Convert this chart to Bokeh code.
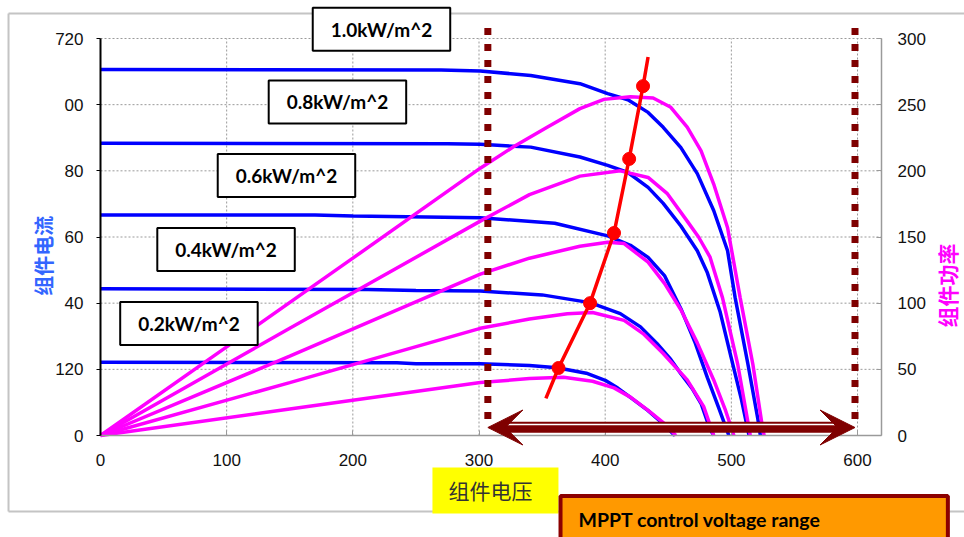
import math
from bokeh.plotting import figure
from bokeh.models import Range1d, LinearAxis, FixedTicker, Label, Arrow, VeeHead
from bokeh.embed import file_html
from bokeh.resources import INLINE

# ---------------- data ----------------
# I-V curves (left axis, current units) for each irradiance
iv_v_10 = [0, 270, 301, 341, 380, 402, 418, 434, 446, 460, 473, 486, 497, 503, 513, 521, 523]
iv_i_10 = [664, 663, 661, 653, 638, 620, 609, 586, 559, 522, 475, 408, 335, 250, 131, 30, 0]
iv_v_08 = [0, 275, 301, 341, 380, 402, 418, 434, 446, 460, 473, 481, 491, 500, 508, 514]
iv_i_08 = [530, 529, 528, 523, 505, 490, 477, 450, 421, 380, 335, 295, 225, 140, 65, 0]
iv_v_06 = [0, 170, 200, 301, 360, 402, 420, 434, 447, 460, 471, 481, 490, 498]
iv_i_06 = [400, 400, 398, 395, 385, 362, 345, 323, 290, 230, 170, 105, 50, 0]
iv_v_04 = [0, 212, 250, 301, 350, 388, 412, 428, 441, 452, 460, 469, 476, 483, 486]
iv_i_04 = [266, 265, 263, 262, 255, 241, 221, 197, 167, 138, 112, 85, 58, 12, 0]
iv_v_02 = [0, 235, 250, 301, 340, 362, 385, 400, 410, 420, 434, 449, 455]
iv_i_02 = [133, 132, 130, 130, 127, 123, 113, 100, 86, 69, 45, 15, 0]

# P-V curves (right axis, power units)
pv_v_10 = [0, 100, 200, 301, 327, 354, 380, 399, 420, 438, 452, 465, 476, 486, 497, 507, 517, 525, 526]
pv_p_10 = [0, 67, 134, 202, 218, 233, 247, 254, 256, 255, 248, 233, 215, 190, 157, 104, 54, 4, 0]
pv_v_08 = [0, 150, 301, 340, 380, 412, 434, 449, 465, 474, 483, 493, 505, 515]
pv_p_08 = [0, 81, 162, 182, 196, 200, 195, 183, 162, 150, 135, 104, 54, 0]
pv_v_06 = [0, 150, 301, 340, 380, 402, 415, 434, 447, 460, 473, 486, 495, 502]
pv_p_06 = [0, 60, 122, 134, 143, 146, 145, 131, 115, 95, 70, 42, 20, 0]
pv_v_04 = [0, 150, 301, 340, 370, 390, 415, 430, 446, 465, 478, 486]
pv_p_04 = [0, 40, 81, 88, 92, 93, 87, 77, 62, 42, 22, 0]
pv_v_02 = [0, 150, 301, 340, 367, 390, 407, 420, 434, 447, 456]
pv_p_02 = [0, 20, 40, 43, 44, 41, 36, 29, 19, 9, 0]

# MPPT trajectory (right axis)
mppt_line_v = [353, 363, 388, 407, 419, 430, 434]
mppt_line_p = [28, 51, 100, 153, 209, 264, 286]
mppt_dot_v = [363, 388, 407, 419, 430]
mppt_dot_p = [51, 100, 153, 209, 264]

# MPPT control voltage range
mppt_range = [307, 598]

irr_labels = ["1.0kW/m^2", "0.8kW/m^2", "0.6kW/m^2", "0.4kW/m^2", "0.2kW/m^2"]

x_ticks = [0, 100, 200, 300, 400, 500, 600]
left_ticks = [0, 120, 240, 360, 480, 600, 720]
left_tick_labels = ["0", "120", "40", "60", "80", "00", "720"]
right_ticks = [0, 50, 100, 150, 200, 250, 300]

X_MAX, I_MAX, P_MAX = 619, 720, 300

# ---------------- figure ----------------
W, H = 964, 537
FL, FR, FT, FB = 100, 881, 38, 435          # plot area edges in page pixels
sx = (FR - FL) / X_MAX
sy = (FB - FT) / I_MAX
x0, x1 = -FL / sx, (W - FL) / sx
y0, y1 = -(H - FB) / sy, FB / sy
k = P_MAX / I_MAX

BLUE = "#0000ff"
MAG = "#ff00ff"
DARKRED = "#7f0000"
TICKFONT = "Liberation Sans"

p = figure(width=W, height=H, x_range=Range1d(x0, x1), y_range=Range1d(y0, y1),
           output_backend="svg", toolbar_location=None,
           min_border_left=0, min_border_right=0, min_border_top=0, min_border_bottom=0)
p.extra_y_ranges = {"pw": Range1d(y0 * k, y1 * k)}
p.outline_line_color = None
p.background_fill_color = "white"
p.border_fill_color = "white"
p.grid.visible = False


def style_axis(ax, line_color, lw, tin, tout, standoff):
    ax.axis_line_color = line_color
    ax.axis_line_width = lw
    ax.major_tick_in = tin
    ax.major_tick_out = tout
    ax.major_tick_line_color = line_color
    ax.major_tick_line_width = 1
    ax.minor_tick_line_color = None
    ax.major_label_standoff = standoff
    ax.major_label_text_font = TICKFONT
    ax.major_label_text_font_size = "17px"
    ax.major_label_text_color = "#111111"


xa = p.xaxis[0]
xa.ticker = FixedTicker(ticks=x_ticks)
xa.fixed_location = 0
xa.bounds = (0, X_MAX)
style_axis(xa, "#9a9a9a", 1.5, 5, 0, 18)

ya = p.yaxis[0]
ya.ticker = FixedTicker(ticks=left_ticks)
ya.major_label_overrides = {t: l for t, l in zip(left_ticks, left_tick_labels)}
ya.fixed_location = 0
ya.bounds = (0, I_MAX)
style_axis(ya, "black", 2, 0, 4, 13)

ra = LinearAxis(y_range_name="pw", ticker=FixedTicker(ticks=right_ticks),
                fixed_location=X_MAX, bounds=(0, P_MAX))
style_axis(ra, "#9a9a9a", 1.5, 5, 0, 16)
p.add_layout(ra, "right")

# dotted grid
gx = [t for t in x_ticks if t > 0]
gy = [t for t in left_ticks if t > 0]
p.segment(x0=gx, y0=[0] * len(gx), x1=gx, y1=[I_MAX] * len(gx),
          line_color="#9a9a9a", line_dash="2 2", line_width=1, level="underlay")
p.segment(x0=[0] * len(gy), y0=gy, x1=[X_MAX] * len(gy), y1=gy,
          line_color="#9a9a9a", line_dash="2 2", line_width=1, level="underlay")

# outer gray frame of the picture
p.segment(x0=[-72.9, -72.9, -72.9], y0=[765.3, 765.3, -137.8],
          x1=[700, -72.9, 700], y1=[765.3, -137.8, -137.8],
          line_color="#c4c4c4", line_width=2, level="underlay")

# curves
for v, i in [(iv_v_10, iv_i_10), (iv_v_08, iv_i_08), (iv_v_06, iv_i_06),
             (iv_v_04, iv_i_04), (iv_v_02, iv_i_02)]:
    p.line(v, i, line_color=BLUE, line_width=3.5)
for v, pw in [(pv_v_10, pv_p_10), (pv_v_08, pv_p_08), (pv_v_06, pv_p_06),
              (pv_v_04, pv_p_04), (pv_v_02, pv_p_02)]:
    p.line(v, pw, line_color=MAG, line_width=3.5, y_range_name="pw")

p.line(mppt_line_v, mppt_line_p, line_color="red", line_width=3.5, y_range_name="pw")
p.scatter(mppt_dot_v, mppt_dot_p, size=13, fill_color="red", line_color="red", y_range_name="pw")

# dotted boundary lines of MPPT range
for xv in mppt_range:
    p.add_layout(Arrow(x_start=xv, x_end=xv, y_start=30, y_end=740, start=None, end=None,
                       line_color=DARKRED, line_width=7, line_dash="7 9", line_cap="butt"))

# double arrow
lo, hi = mppt_range
p.add_layout(Arrow(x_start=lo + 13, x_end=hi - 13, y_start=15, y_end=15, start=None, end=None,
                   line_color=DARKRED, line_width=11))
p.add_layout(Arrow(x_start=lo + 14, x_end=hi - 14, y_start=20, y_end=20, start=None, end=None,
                   line_color="white", line_width=1.5))
p.add_layout(Arrow(x_start=lo, x_end=hi, y_start=14.5, y_end=14.5, line_alpha=0,
                   start=VeeHead(size=35, fill_color=DARKRED, line_color=DARKRED, line_width=1),
                   end=VeeHead(size=35, fill_color=DARKRED, line_color=DARKRED, line_width=1)))

# irradiance boxes
box_pos = [(222.7, 737), (187.8, 605), (147.4, 471.5), (99.5, 337.3), (70.1, 203.1)]
for (bx, by), txt in zip(box_pos, irr_labels):
    p.add_layout(Label(x=bx, y=by, text=txt, text_align="center", text_baseline="middle",
                       text_font="Lato", text_font_style="bold", text_font_size="19px",
                       text_color="black", background_fill_color="white",
                       border_line_color="black", border_line_width=2,
                       padding=dict(left=18, right=18, top=10, bottom=10)))

# axis titles
p.add_layout(Label(x=-45.2, y=326, text="组件电流", angle=math.pi / 2, text_align="center",
                   text_baseline="middle", text_font="Noto Sans CJK SC", text_font_size="20px",
                   text_font_style="bold", text_color="#3366ff"))
p.add_layout(Label(x=671.3, y=272, text="组件功率", angle=math.pi / 2, text_align="center",
                   text_baseline="middle", text_font="Noto Sans CJK SC", text_font_size="21px",
                   text_font_style="bold", text_color="#ff00ff"))
p.add_layout(Label(x=263.1, y=-99.7, text="组件电压", text_align="left", text_baseline="middle",
                   text_font="Noto Sans CJK SC", text_font_size="21px", text_color="#333333",
                   background_fill_color="#ffff00",
                   padding=dict(left=16, right=26, top=8, bottom=8)))
p.add_layout(Label(x=364.6, y=-177.7, text="MPPT control voltage range", text_align="left",
                   text_baseline="middle", text_font="Lato", text_font_style="bold",
                   text_font_size="19.5px", text_color="black", background_fill_color="#ff9900",
                   border_line_color="#8b0000", border_line_width=4,
                   padding=dict(left=18, right=127, top=12, bottom=40)))

open("out.html", "w").write(file_html(p, INLINE))
